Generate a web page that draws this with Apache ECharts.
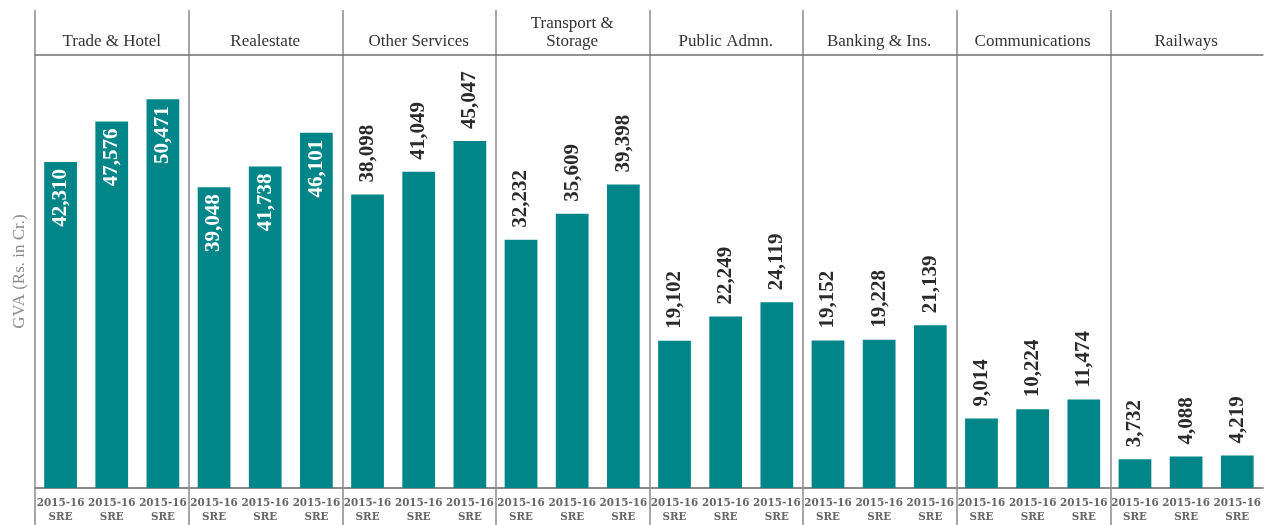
<!DOCTYPE html>
<html>
<head>
<meta charset="utf-8">
<script src="https://cdn.jsdelivr.net/npm/echarts@6/dist/echarts.min.js"></script>
<style>
html,body{margin:0;padding:0;background:#fff;}
#chart{width:1264px;height:525px;}
</style>
</head>
<body>
<div id="chart"></div>
<script>
// ---- data ----
var sectors = ['Trade & Hotel', 'Realestate', 'Other Services', 'Transport &\nStorage', 'Public Admn.', 'Banking & Ins.', 'Communications', 'Railways'];
var periodLabel = '2015-16\nSRE';
var tradeHotel = [42310, 47576, 50471];
var realestate = [39048, 41738, 46101];
var otherServices = [38098, 41049, 45047];
var transportStorage = [32232, 35609, 39398];
var publicAdmn = [19102, 22249, 24119];
var bankingIns = [19152, 19228, 21139];
var communications = [9014, 10224, 11474];
var railways = [3732, 4088, 4219];
var yAxisName = 'GVA (Rs. in Cr.)';

var groups = [tradeHotel, realestate, otherServices, transportStorage, publicAdmn, bankingIns, communications, railways];
var barCats = [];
var values = [];
groups.forEach(function (g, gi) {
  g.forEach(function (v, i) {
    barCats.push(gi + '-' + i);
    values.push(v);
  });
});

var fmt = function (v) { return v.toLocaleString('en-US'); };
var labelFont = '"Liberation Serif", serif';
var barData = values.map(function (v, idx) {
  var inside = idx < 6;
  return {
    value: v,
    label: inside ? {
      position: 'insideTop', rotate: 90, align: 'right', verticalAlign: 'middle',
      distance: 7, color: '#ffffff'
    } : {
      position: 'top', rotate: 90, align: 'left', verticalAlign: 'middle',
      distance: 12, color: '#2b2b2b'
    }
  };
});

var chart = echarts.init(document.getElementById('chart'), null, {renderer: 'canvas'});
chart.setOption({
  animation: false,
  backgroundColor: '#ffffff',
  grid: [
    {left: 35, right: 0, top: 55, bottom: 37},
    {left: 35, right: 0, top: 10, bottom: 0}
  ],
  xAxis: [
    {
      type: 'category', gridIndex: 0, position: 'bottom', data: barCats,
      axisLine: {show: true, lineStyle: {color: '#8a8a8a', width: 2}},
      axisTick: {show: false},
      axisLabel: {
        interval: 0, margin: 8, formatter: function () { return periodLabel; },
        fontFamily: '"DejaVu Serif Condensed", "DejaVu Serif", serif', fontWeight: 'bold', fontSize: 11.5,
        color: '#666666', lineHeight: 14
      }
    },
    {
      type: 'category', gridIndex: 0, position: 'top', data: sectors,
      axisLine: {show: true, lineStyle: {color: '#707070', width: 1.5}},
      axisTick: {show: false},
      axisLabel: {
        interval: 0, margin: 4, fontFamily: labelFont, fontSize: 17, color: '#333333', lineHeight: 18
      }
    },
    {
      type: 'category', gridIndex: 1, data: sectors,
      axisLine: {show: false}, axisTick: {show: false}, axisLabel: {show: false},
      splitLine: {show: true, interval: 0, showMaxLine: false, lineStyle: {color: '#8a8a8a', width: 1.5}}
    }
  ],
  yAxis: [
    {
      type: 'value', gridIndex: 0, min: 0, max: 56200,
      axisLine: {show: false}, axisTick: {show: false}, axisLabel: {show: false},
      splitLine: {show: false},
      name: yAxisName, nameLocation: 'middle', nameGap: 7, nameRotate: 90,
      nameTextStyle: {fontFamily: labelFont, fontSize: 17, color: '#8a8a8a'}
    },
    {
      type: 'value', gridIndex: 1, show: false
    }
  ],
  series: [{
    type: 'bar', xAxisIndex: 0, yAxisIndex: 0,
    data: barData,
    barWidth: '64%',
    itemStyle: {color: '#008688'},
    label: {
      show: true, formatter: function (p) { return fmt(p.value); },
      fontFamily: labelFont, fontWeight: 'bold', fontSize: 21
    }
  }]
});
</script>
</body>
</html>
